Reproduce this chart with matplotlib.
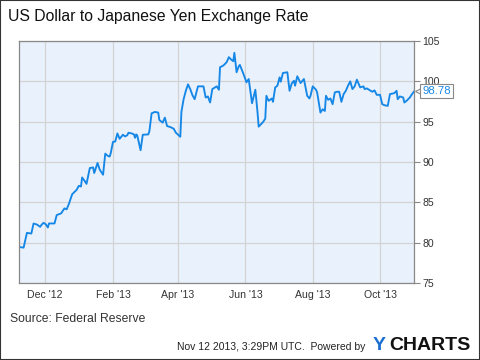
import numpy as np
import pandas as pd
import matplotlib
matplotlib.use('Agg')
import matplotlib.pyplot as plt
import matplotlib.dates as mdates
import matplotlib.transforms as mtransforms

plt.rcParams['font.family'] = ['Liberation Sans', 'DejaVu Sans']

# ---- Data ----
start_date = '2012-11-08'
day_offsets = [0, 4, 7, 11, 13, 16, 19, 20, 22, 24, 26, 27, 32, 34, 38, 41, 43, 45, 48, 52,
               54, 56, 57, 59, 61, 64, 67, 68, 71, 73, 76, 78, 80, 82, 83, 85, 87, 89, 91, 93,
               94, 96, 98, 99, 102, 104, 105, 106, 107, 110, 112, 117, 118, 120, 123, 126, 127,
               130, 132, 134, 137, 140, 142, 144, 146, 147, 149, 151, 153, 155, 157, 159, 162,
               167, 169, 171, 173, 175, 179, 181, 182, 185, 188, 190, 192, 194, 195, 197, 199,
               200, 203, 206, 208, 211, 214, 216, 217, 221, 223, 224, 226, 229, 230, 232, 234,
               236, 237, 239, 243, 245, 247, 249, 250, 252, 254, 255, 258, 261, 263, 264, 266,
               269, 270, 273, 275, 277, 278, 280, 282, 284, 286, 288, 290, 292, 294, 296, 298,
               300, 302, 304, 306, 309, 312, 313, 315, 317, 320, 322, 324, 327, 329, 331, 334,
               336, 340, 342, 343, 345, 348, 349, 351, 354, 356, 358]
usd_jpy = [79.46, 79.38, 81.21, 81.13, 82.37, 82.25, 81.96, 82.17, 82.46, 82.29, 81.88, 82.38,
           82.38, 83.42, 83.63, 84.25, 84.13, 84.79, 86.00, 86.54, 87.04, 86.96, 88.08, 87.71,
           87.29, 89.25, 89.33, 88.63, 89.88, 89.04, 88.42, 91.04, 90.79, 90.67, 91.13, 92.50,
           92.54, 93.54, 92.88, 93.21, 93.38, 93.17, 93.33, 93.63, 93.54, 93.42, 93.00, 93.42,
           93.29, 91.46, 93.38, 93.42, 93.83, 96.04, 96.21, 96.13, 95.21, 94.88, 95.50, 94.46,
           94.33, 94.13, 93.63, 93.38, 93.13, 96.21, 97.79, 98.83, 99.63, 99.04, 98.29, 97.79,
           99.38, 99.38, 98.00, 98.13, 97.38, 99.04, 99.38, 98.96, 101.75, 101.96, 102.38,
           103.00, 102.71, 102.50, 103.54, 101.13, 101.88, 102.04, 101.00, 99.88, 100.29,
           97.29, 98.96, 96.13, 94.38, 94.96, 95.38, 98.21, 97.58, 97.88, 97.46, 99.25, 99.46,
           100.50, 99.96, 101.04, 101.13, 98.83, 99.75, 100.08, 99.46, 100.63, 100.08, 99.79,
           100.29, 98.21, 97.88, 98.21, 99.38, 98.96, 98.63, 96.13, 96.54, 96.33, 98.21, 97.71,
           97.88, 97.17, 98.63, 98.71, 98.71, 97.46, 98.42, 98.83, 99.46, 100.00, 99.04, 99.38,
           100.21, 99.25, 99.38, 99.04, 99.13, 98.96, 98.71, 98.88, 98.33, 98.33, 97.17, 97.04,
           96.96, 98.42, 98.54, 98.83, 97.79, 98.13, 98.00, 97.38, 97.58, 98.00, 98.42, 98.78]
last_value = 98.78
x_start, x_end = '2012-11-08', '2013-11-01'
y_ticks = [75, 80, 85, 90, 95, 100, 105]
x_tick_dates = ['2012-12-01', '2013-02-01', '2013-04-01', '2013-06-01', '2013-08-01', '2013-10-01']

dates = pd.Timestamp(start_date) + pd.to_timedelta(day_offsets, unit='D')

# ---- Plot ----
fig = plt.figure(figsize=(4.8, 3.6), dpi=100)
ax = fig.add_axes([0.040, 0.214, 0.823, 0.672])
ax.set_facecolor('#e9f1fd')

ax.plot(dates, usd_jpy, color='#1587e6', linewidth=1.35, solid_joinstyle='round')

ax.set_xlim(pd.Timestamp(x_start), pd.Timestamp(x_end))
ax.set_ylim(75, 105)
ax.set_yticks(y_ticks)
ax.set_xticks(pd.to_datetime(x_tick_dates))
ax.xaxis.set_major_formatter(mdates.DateFormatter("%b '%y"))

ax.yaxis.tick_right()
ax.tick_params(axis='y', length=4, width=0.8, color='#888888', labelsize=7.6,
               labelcolor='#333333', pad=2)
ax.tick_params(axis='x', length=0, labelsize=7.6, labelcolor='#333333', pad=5)
ax.grid(True, color='#d3d3d3', linewidth=0.9)
ax.set_axisbelow(True)
for s in ax.spines.values():
    s.set_color('#888888')
    s.set_linewidth(0.9)

# last value flag
trans = mtransforms.blended_transform_factory(ax.transAxes, ax.transData)
ax.plot([1.012], [last_value], marker='<', markersize=6, markerfacecolor='white',
        markeredgecolor='#888888', markeredgewidth=0.8, transform=trans, clip_on=False, zorder=5)
ax.text(1.021, last_value, f'{last_value:.2f}', transform=trans, va='center', ha='left',
        fontsize=8.2, color='#1587e6', zorder=6,
        bbox=dict(boxstyle='square,pad=0.2', facecolor='white', edgecolor='#888888', linewidth=0.8))

# texts
fig.text(8 / 480, 1 - 16 / 360, 'US Dollar to Japanese Yen Exchange Rate', fontsize=11.3,
         va='center', ha='left', color='#111111')
fig.text(10 / 480, 1 - 319 / 360, 'Source: Federal Reserve', fontsize=8.7,
         va='center', ha='left', color='#333333')
fig.text(365 / 480, 1 - 347 / 360, 'Nov 12 2013, 3:29PM UTC.  Powered by', fontsize=7.5,
         va='center', ha='right', color='#222222')
fig.text(373 / 480, 1 - 346 / 360, 'Y', fontsize=14, fontweight='bold',
         va='center', ha='left', color='#1a6fd1')
fig.text(470 / 480, 1 - 346 / 360, 'CHARTS', fontsize=14, fontweight='bold',
         va='center', ha='right', color='#111111')

# frame
fig.patches.append(plt.Rectangle((0, 0), 1, 1, transform=fig.transFigure, fill=False,
                                 edgecolor='#333333', linewidth=1.5))

plt.savefig('out.png', dpi=100)
